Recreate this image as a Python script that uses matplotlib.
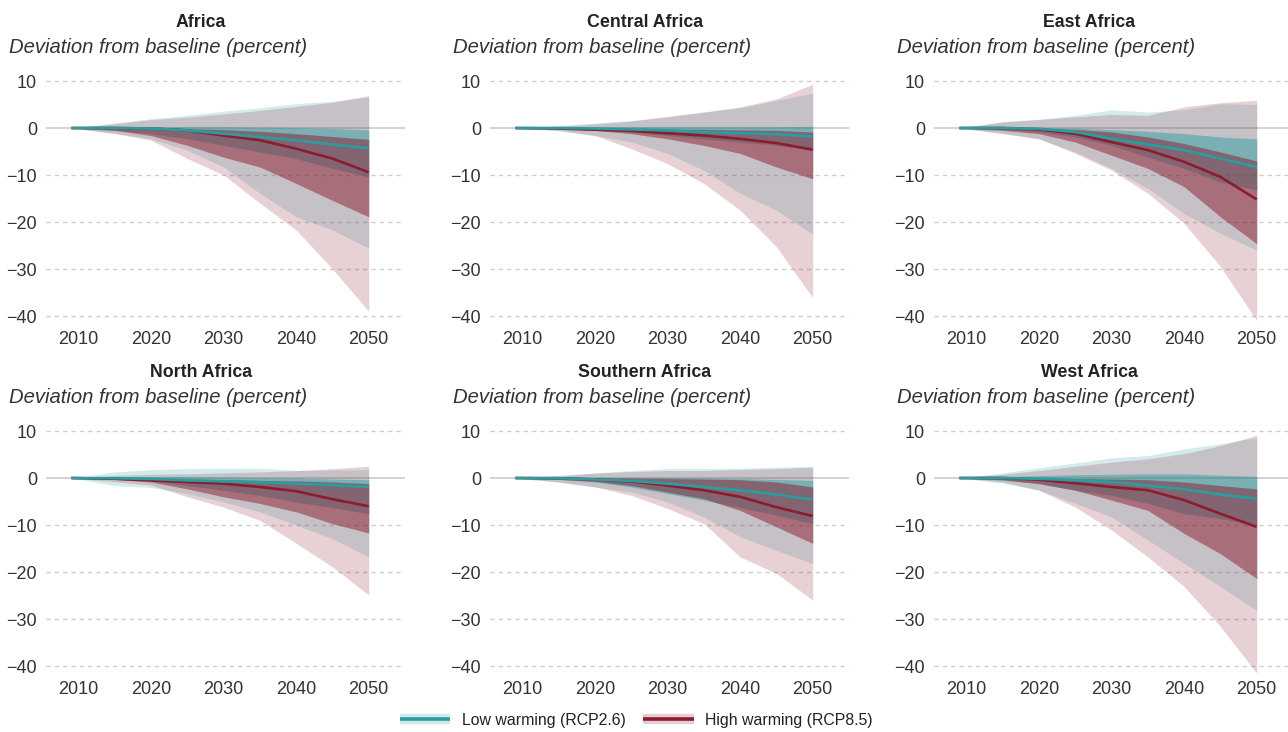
import numpy as np
import matplotlib
matplotlib.use("Agg")
import matplotlib.pyplot as plt
from matplotlib.lines import Line2D
from matplotlib.legend_handler import HandlerTuple

plt.rcParams['font.family'] = ['Liberation Sans', 'DejaVu Sans']

# data (deviation from baseline, percent)
years = [2009, 2015, 2020, 2025, 2030, 2035, 2040, 2045, 2050]
regions = ["Africa", "Central Africa", "East Africa",
           "North Africa", "Southern Africa", "West Africa"]

# low warming (RCP2.6): median, inner band, outer band
rcp26_med = [
    [0, 0, -0.1, -0.5, -1.2, -1.9, -2.6, -3.5, -4.3],
    [0, 0, -0.1, -0.3, -0.5, -0.9, -1.1, -1.3, -1.8],
    [0, 0, -0.15, -0.85, -2.3, -3.5, -4.7, -6.5, -8.3],
    [0, -0.05, -0.2, -0.5, -0.7, -0.9, -1.2, -1.5, -1.9],
    [0, -0.05, -0.3, -0.6, -1.2, -1.9, -2.6, -3.5, -4.6],
    [0, 0, -0.15, -0.5, -0.85, -1.6, -2.4, -3.5, -4.4],
]
rcp26_in_hi = [
    [0, 0.1, 0.2, 0.3, 0.3, 0.2, 0.1, -0.1, -0.4],
    [0, 0.1, 0.2, 0.3, 0.3, 0.3, 0.3, 0.3, 0.35],
    [0, 0.1, 0.1, 0, -0.35, -0.7, -1.2, -1.9, -2.3],
    [0, 0.3, 0.3, 0.3, 0.2, 0.1, 0, -0.2, -0.35],
    [0, 0.1, 0.1, 0.1, 0.1, 0, -0.1, -0.3, -0.5],
    [0, 0.3, 0.5, 0.7, 0.8, 0.9, 0.9, 0.6, 0.35],
]
rcp26_in_lo = [
    [0, -0.5, -1.2, -2.3, -3.7, -5.1, -6.5, -8.6, -10.4],
    [0, -0.15, -0.35, -0.85, -1.6, -2.3, -3.0, -3.7, -4.7],
    [0, -0.35, -0.85, -1.9, -3.7, -6.2, -8.6, -11.5, -13.2],
    [0, -0.2, -0.6, -1.6, -2.6, -3.7, -5.1, -6.3, -7.6],
    [0, -0.3, -0.85, -1.9, -3.3, -4.7, -6.3, -7.9, -9.7],
    [0, -0.5, -1.2, -2.6, -3.7, -5.4, -7.6, -8.6, -10.0],
]
rcp26_out_hi = [
    [0, 1.1, 2.0, 2.7, 3.6, 4.3, 5.2, 5.7, 6.6],
    [0, 0.55, 1.05, 1.6, 2.3, 3.4, 4.3, 5.9, 7.4],
    [0, 1.4, 1.9, 2.7, 3.9, 3.4, 3.9, 5.2, 5.0],
    [0, 1.3, 1.8, 2.0, 2.1, 2.1, 1.6, 1.7, 1.8],
    [0, 0.5, 1.1, 1.6, 2.0, 2.0, 2.1, 2.3, 2.5],
    [0, 1.1, 2.2, 3.2, 4.3, 4.8, 6.2, 7.3, 8.6],
]
rcp26_out_lo = [
    [0, -1.1, -2.3, -4.7, -8.3, -13.9, -18.9, -21.7, -25.6],
    [0, -0.6, -1.6, -3.0, -5.4, -9.0, -13.9, -17.5, -22.6],
    [0, -1.1, -2.3, -5.1, -8.6, -12.9, -18.2, -22.4, -26.0],
    [0, -1.6, -2.0, -3.3, -5.1, -7.2, -10.0, -12.9, -16.8],
    [0, -0.85, -1.9, -3.0, -5.1, -8.3, -12.5, -15.4, -18.2],
    [0, -1.1, -2.6, -5.4, -8.3, -13.2, -18.2, -23.1, -28.2],
]

# high warming (RCP8.5)
rcp85_med = [
    [0, 0, -0.1, -0.5, -1.6, -2.6, -4.4, -6.5, -9.4],
    [0, -0.1, -0.35, -0.6, -1.1, -1.6, -2.3, -3.2, -4.6],
    [0, 0, -0.3, -1.2, -3.0, -4.7, -7.2, -10.4, -15.2],
    [0, -0.15, -0.5, -0.85, -1.2, -1.9, -2.8, -4.5, -6.0],
    [0, -0.05, -0.3, -0.7, -1.6, -2.6, -4.0, -6.2, -8.1],
    [0, 0, -0.35, -1.1, -1.9, -2.6, -4.7, -7.6, -10.4],
]
rcp85_in_hi = [
    [0, 0, 0, -0.15, -0.35, -0.7, -1.2, -1.8, -2.4],
    [0, 0, 0, -0.1, -0.2, -0.3, -0.4, -0.5, -0.85],
    [0, 0.05, 0, -0.3, -0.85, -1.9, -3.3, -5.1, -7.0],
    [0, 0, -0.05, -0.2, -0.35, -0.5, -0.6, -0.85, -1.2],
    [0, 0.05, 0.05, 0, -0.1, -0.2, -0.35, -0.85, -1.9],
    [0, 0, 0, -0.1, -0.2, -0.35, -0.85, -1.6, -2.3],
]
rcp85_in_lo = [
    [0, -0.5, -1.6, -3.7, -6.2, -8.3, -11.8, -15.4, -18.9],
    [0, -0.15, -0.5, -1.2, -2.3, -3.7, -5.4, -8.3, -10.8],
    [0, -0.5, -1.2, -3.0, -5.8, -8.6, -12.5, -18.9, -24.6],
    [0, -0.3, -0.85, -2.3, -4.0, -5.4, -7.2, -9.7, -11.7],
    [0, -0.3, -0.7, -1.6, -3.0, -4.4, -6.9, -10.4, -13.9],
    [0, -0.35, -1.2, -2.6, -4.7, -6.9, -11.8, -16.1, -21.4],
]
rcp85_out_hi = [
    [0, 0.9, 1.8, 2.3, 3.0, 3.75, 4.6, 5.5, 6.9],
    [0, 0.35, 0.9, 1.5, 2.5, 3.4, 4.5, 6.2, 9.3],
    [0, 1.3, 1.8, 2.4, 2.9, 2.7, 4.5, 5.4, 5.9],
    [0, 0.55, 0.8, 0.9, 1.1, 1.3, 1.6, 2.0, 2.5],
    [0, 0.55, 1.05, 1.4, 1.6, 1.6, 1.8, 2.0, 2.3],
    [0, 0.8, 1.6, 2.5, 3.4, 4.1, 5.2, 6.9, 9.1],
]
rcp85_out_lo = [
    [0, -1.2, -2.6, -6.5, -10.0, -16.0, -21.7, -30.0, -39.0],
    [0, -0.5, -1.6, -4.4, -7.6, -11.8, -17.5, -25.3, -36.1],
    [0, -1.2, -2.3, -5.4, -9.0, -13.9, -20.3, -29.5, -41.0],
    [0, -0.8, -1.5, -4.0, -6.2, -9.0, -13.9, -18.9, -24.9],
    [0, -0.85, -1.9, -3.7, -6.5, -9.7, -16.8, -20.3, -26.0],
    [0, -0.85, -2.6, -6.2, -11.1, -16.8, -23.1, -31.6, -41.5],
]

teal = '#2A9DA0'
red = '#8C1C30'
tick_col = '#333333'

W, H = 1288, 732
fig = plt.figure(figsize=(W / 100, H / 100), dpi=100)

col_off = [0, 444, 888]
row_off = [0, 350]

for k, name in enumerate(regions):
    r, c = divmod(k, 3)
    x0 = col_off[c]
    y0 = row_off[r]
    # axes box in pixels
    left, right = x0 + 46, x0 + 405
    top, bottom = y0 + 74, y0 + 325.4
    ax = fig.add_axes([left / W, 1 - bottom / H, (right - left) / W, (bottom - top) / H])

    ax.fill_between(years, rcp26_out_lo[k], rcp26_out_hi[k], color=teal, alpha=0.2, lw=0)
    ax.fill_between(years, rcp85_out_lo[k], rcp85_out_hi[k], color=red, alpha=0.2, lw=0)
    ax.fill_between(years, rcp26_in_lo[k], rcp26_in_hi[k], color=teal, alpha=0.48, lw=0)
    ax.fill_between(years, rcp85_in_lo[k], rcp85_in_hi[k], color=red, alpha=0.5, lw=0)
    ax.plot(years, rcp85_med[k], color=red, lw=1.9, solid_capstyle='butt')
    ax.plot(years, rcp26_med[k], color=teal, lw=1.9, solid_capstyle='butt')

    ax.axhline(0, color='#cfcfcf', lw=1.3, zorder=0)
    for yv in [10, -10, -20, -30, -40]:
        ax.axhline(yv, color='#cccccc', lw=1.0, ls=(0, (3, 3)), zorder=0)

    ax.set_xlim(2005.5, 2055)
    ax.set_ylim(-42, 11.5)
    ax.set_xticks([2010, 2020, 2030, 2040, 2050])
    ax.set_yticks([10, 0, -10, -20, -30, -40])
    ax.set_yticklabels(['10', '0', '\u221210', '\u221220', '\u221230', '\u221240'])
    ax.tick_params(length=0, labelsize=13, colors=tick_col)
    ax.tick_params(axis='y', pad=6.5)
    ax.tick_params(axis='x', pad=4)
    for s in ax.spines.values():
        s.set_visible(False)

    fig.text((x0 + 201) / W, 1 - (y0 + 27) / H, name, ha='center', va='baseline',
             fontsize=12.8, fontweight='bold', color='#222222')
    fig.text((x0 + 9) / W, 1 - (y0 + 53) / H, 'Deviation from baseline (percent)',
             ha='left', va='baseline', fontsize=14.6, style='italic', color='#333333')

# legend: light band with the median line on top
h1 = (Line2D([], [], color=teal, alpha=0.22, lw=7.5, solid_capstyle='butt'),
      Line2D([], [], color=teal, lw=2.6, solid_capstyle='butt'))
h2 = (Line2D([], [], color=red, alpha=0.22, lw=7.5, solid_capstyle='butt'),
      Line2D([], [], color=red, lw=2.6, solid_capstyle='butt'))
fig.legend([h1, h2], ['Low warming (RCP2.6)', 'High warming (RCP8.5)'],
           handler_map={tuple: HandlerTuple(ndivide=1)},
           loc='center', bbox_to_anchor=(636 / W, 1 - 720 / H), ncol=2, frameon=False,
           fontsize=11.4, handlelength=3.2, handletextpad=0.7, columnspacing=1.1,
           labelcolor='#222222')

fig.savefig('out.png', dpi=100)
